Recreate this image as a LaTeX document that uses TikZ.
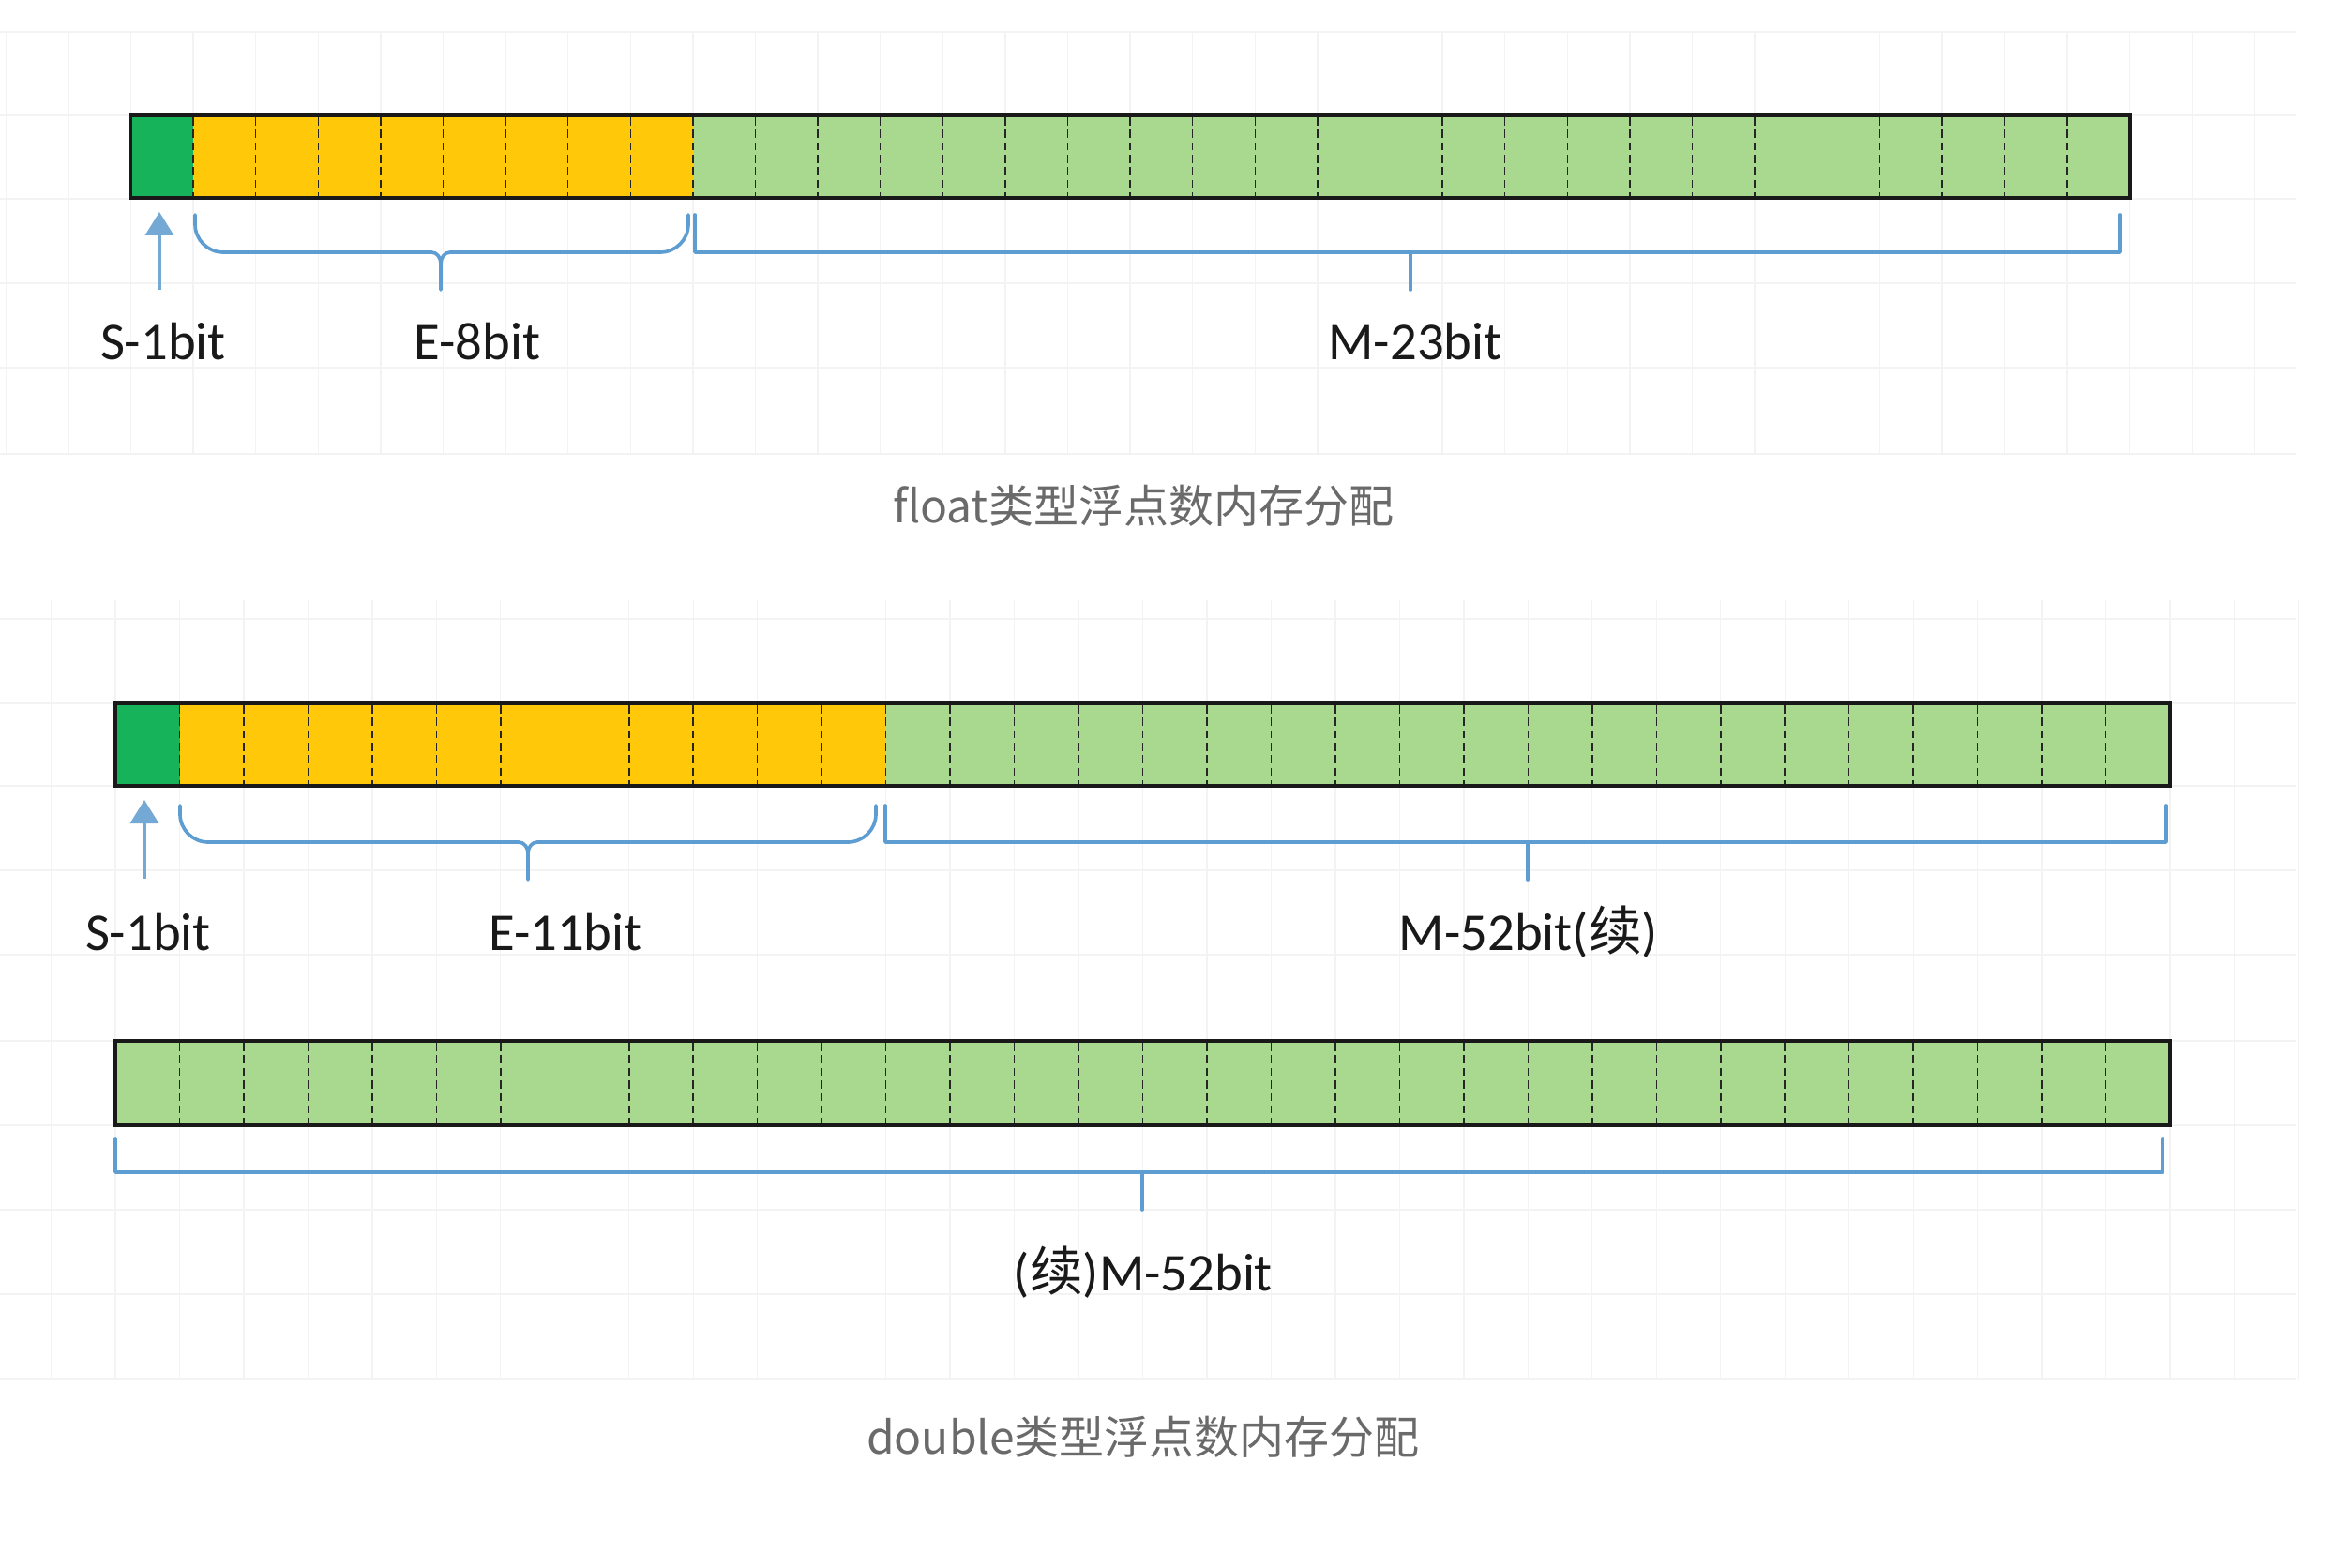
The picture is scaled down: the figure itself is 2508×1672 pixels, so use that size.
\documentclass[tikz,border=0pt]{standalone}
\usepackage{fontspec}
\setmainfont{Carlito}
\newfontfamily\cjk{Noto Sans CJK SC}
\usetikzlibrary{arrows.meta}
\definecolor{sgreen}{HTML}{17B35A}
\definecolor{eyellow}{HTML}{FFC90A}
\definecolor{mgreen}{HTML}{A9D98E}
\definecolor{brblue}{HTML}{5E9DD2}
\definecolor{arblue}{HTML}{74A9D6}
\definecolor{capgray}{HTML}{6A6A6A}
\definecolor{gridc}{HTML}{F3F3F3}
\tikzset{
  gridline/.style={draw=gridc, line width=0.4pt},
  cellsep/.style={draw=black!85, line width=0.45pt, dash pattern=on 2.6pt off 1.4pt},
  barborder/.style={draw=black!90, line width=1pt},
  brk/.style={draw=brblue, line width=1.1pt, line cap=round, line join=round},
  sarrow/.style={draw=arblue, line width=1.1pt, -{Triangle[width=9pt,length=7.5pt]}},
  lbl/.style={inner sep=0pt, anchor=base, font=\fontsize{17}{20}\selectfont, text=black!90},
  captxt/.style={inner sep=0pt, anchor=base, font=\cjk\fontsize{14.4}{17}\selectfont, text=capgray},
}
\begin{document}
\begin{tikzpicture}[x=0.3pt,y=-0.3pt]
\useasboundingbox[fill=white] (0,0) rectangle (2508,1672);
% faint background grid, top section
\foreach \k in {-2,...,34} \draw[gridline] ({139.5+\k*66.6},34) -- ({139.5+\k*66.6},484);
\foreach \yy in {34,123,212,302,392,484} \draw[gridline] (0,\yy) -- (2448,\yy);
% faint background grid, bottom section
\foreach \k in {-1,...,34} \draw[gridline] ({123+\k*68.47},640) -- ({123+\k*68.47},1472);
\foreach \yy in {660,750,838,928,1018,1110,1200,1290,1380,1470} \draw[gridline] (0,\yy) -- (2448,\yy);

% ---------- float bar ----------
\fill[sgreen] (139.5,123) rectangle (206.1,211);
\fill[eyellow] (206.1,123) rectangle (738.9,211);
\fill[mgreen] (738.9,123) rectangle (2271,211);
\foreach \i in {1,...,31} \draw[cellsep] ({139.5+\i*66.6},125) -- ({139.5+\i*66.6},209);
\draw[barborder] (139.5,123) rectangle (2271,211);

% ---------- double bar row 1 ----------
\fill[sgreen] (123,750) rectangle (191.5,838);
\fill[eyellow] (191.5,750) rectangle (944.2,838);
\fill[mgreen] (944.2,750) rectangle (2314,838);
\foreach \i in {1,...,31} \draw[cellsep] ({123+\i*68.47},752) -- ({123+\i*68.47},836);
\draw[barborder] (123,750) rectangle (2314,838);

% ---------- double bar row 2 ----------
\fill[mgreen] (123,1110) rectangle (2314,1200);
\foreach \i in {1,...,31} \draw[cellsep] ({123+\i*68.47},1112) -- ({123+\i*68.47},1198);
\draw[barborder] (123,1110) rectangle (2314,1200);

% ---------- float annotations ----------
\coordinate (fa0) at (170,309);
\coordinate (fa1) at (170,226);
\draw[sarrow] (fa0) -- (fa1);
% E bracket (brace-like)
\coordinate (fe1) at (208,229);
\coordinate (fe2) at (734,229);
\coordinate (fem) at (470,309);
\draw[brk, rounded corners=9] (fe1) -- (208,269) -- (460,269);
\draw[brk] (460,269) to[out=0,in=90] (470,281) -- (fem);
\draw[brk, rounded corners=9] (fe2) -- (734,269) -- (480,269);
\draw[brk] (480,269) to[out=180,in=90] (470,281);
% M bracket (square)
\coordinate (fm1) at (741,229);
\coordinate (fm2) at (2261,229);
\coordinate (fmm) at (1504,309);
\draw[brk] (fm1) -- (741,269) -- (2261,269) -- (fm2);
\draw[brk] (1504,269) -- (fmm);
\node[lbl] (fs) at (174,384) {S-1bit};
\node[lbl] (fe) at (509,384) {E-8bit};
\node[lbl] (fm) at (1509,384) {M-23bit};
\node[captxt] (fcap) at (1219,558) {float类型浮点数内存分配};

% ---------- double annotations ----------
\coordinate (da0) at (154,937);
\coordinate (da1) at (154,853);
\draw[sarrow] (da0) -- (da1);
\coordinate (de1) at (192,859);
\coordinate (de2) at (934,859);
\coordinate (dem) at (563,938);
\draw[brk, rounded corners=9] (de1) -- (192,898) -- (553,898);
\draw[brk] (553,898) to[out=0,in=90] (563,910) -- (dem);
\draw[brk, rounded corners=9] (de2) -- (934,898) -- (573,898);
\draw[brk] (573,898) to[out=180,in=90] (563,910);
\coordinate (dm1) at (944,859);
\coordinate (dm2) at (2310,859);
\coordinate (dmm) at (1629,938);
\draw[brk] (dm1) -- (944,898) -- (2310,898) -- (dm2);
\draw[brk] (1629,898) -- (dmm);
\node[lbl] (ds) at (158,1013) {S-1bit};
\node[lbl] (de) at (603,1013) {E-11bit};
\node[lbl] (dm) at (1630,1013) {M-52bit({\cjk 续})};

\coordinate (dc1) at (123,1214);
\coordinate (dc2) at (2306,1214);
\coordinate (dcm) at (1218,1290);
\draw[brk] (dc1) -- (123,1250) -- (2306,1250) -- (dc2);
\draw[brk] (1218,1250) -- (dcm);
\node[lbl] (dc) at (1219,1376) {({\cjk 续})M-52bit};
\node[captxt] (dcap) at (1219,1550) {double类型浮点数内存分配};
\end{tikzpicture}
\end{document}
